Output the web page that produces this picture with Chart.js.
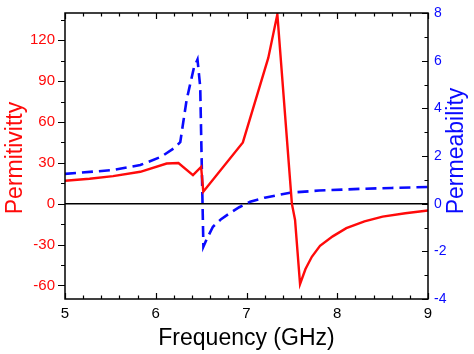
<!DOCTYPE html>
<html>
<head>
<meta charset="utf-8">
<script src="https://cdn.jsdelivr.net/npm/chart.js@4"></script>
<style>
    html, body { margin: 0; padding: 0; background: #fff; }
    #wrap { width: 474px; height: 354px; }
</style>
</head>
<body>
<div id="wrap"><canvas id="chart"></canvas></div>
<script>
// permittivity (red, left axis)
const epsFreq = [5.0, 5.27, 5.53, 5.83, 6.12, 6.25, 6.41, 6.5, 6.524, 6.96, 7.24, 7.34, 7.5, 7.535, 7.59, 7.65, 7.72, 7.81, 7.95, 8.1, 8.3, 8.5, 8.75, 9.0];
const epsVals = [16.8, 18.3, 20.2, 23.4, 29.5, 29.8, 21, 27, 8.8, 45, 107, 139, 0, -12, -59, -48, -39, -31, -24, -18, -13, -9.5, -7, -5];

// permeability (blue, right axis)
const muFreq = [5.0, 5.53, 5.83, 6.06, 6.2, 6.27, 6.34, 6.42, 6.46, 6.49, 6.505, 6.525, 6.56, 6.63, 6.72, 6.82, 6.92, 7.04, 7.2, 7.48, 7.8, 8.25, 8.6, 9.0];
const muVals = [1.25, 1.41, 1.62, 1.97, 2.32, 2.58, 4.35, 5.7, 6.05, 4.9, 2.0, -1.8, -1.5, -0.97, -0.65, -0.39, -0.15, 0.08, 0.25, 0.46, 0.55, 0.62, 0.66, 0.7];

const xTicks = [5, 6, 7, 8, 9];
const epsTicks = [-60, -30, 0, 30, 60, 90, 120];
const muTicks = [-4, -2, 0, 2, 4, 6, 8];

const RED = '#ff0a0a';
const BLUE = '#0a0aff';
const FONT = '"Liberation Sans", Arial, sans-serif';

function toPoints(xs, ys) {
    return xs.map((x, i) => ({x: x, y: ys[i]}));
}

function fixedTicks(values) {
    return function (scale) {
        scale.ticks = values.map(v => ({value: v}));
    };
}

function fitTo(size) {
    return function (scale) {
        if (scale.isHorizontal()) {
            scale.height = size;
            scale.paddingLeft = 0;
            scale.paddingRight = 0;
        } else {
            scale.width = size;
            scale.paddingTop = 0;
            scale.paddingBottom = 0;
        }
    };
}

// frame, zero line, ticks (left outward, others inward) and axis titles
const framePlugin = {
    id: 'frame',
    beforeDatasetsDraw(chart) {
        const ctx = chart.ctx;
        const a = chart.chartArea;
        const y0 = chart.scales.y.getPixelForValue(0);
        ctx.save();
        ctx.strokeStyle = '#000';
        ctx.lineWidth = 1.5;
        ctx.beginPath();
        ctx.moveTo(a.left, y0);
        ctx.lineTo(a.right, y0);
        ctx.stroke();
        ctx.restore();
    },
    afterDraw(chart) {
        const ctx = chart.ctx;
        const a = chart.chartArea;
        const sx = chart.scales.x, sy = chart.scales.y, sy1 = chart.scales.y1;
        ctx.save();
        ctx.strokeStyle = '#000';
        ctx.lineWidth = 1.5;
        ctx.strokeRect(a.left, a.top, a.right - a.left, a.bottom - a.top);

        ctx.lineWidth = 1.2;
        ctx.beginPath();
        // x ticks, bottom and top, inward
        for (let v = 5; v <= 9.001; v += 0.2) {
            const px = Math.round(sx.getPixelForValue(v)) + 0.5;
            const major = Math.abs(v - Math.round(v)) < 1e-6;
            const len = major ? 6 : 3.5;
            ctx.moveTo(px, a.bottom); ctx.lineTo(px, a.bottom - len);
            ctx.moveTo(px, a.top); ctx.lineTo(px, a.top + len);
        }
        // left ticks, outward
        for (let v = -60; v <= 135; v += 15) {
            const py = Math.round(sy.getPixelForValue(v)) + 0.5;
            const len = v % 30 === 0 ? 7 : 4;
            ctx.moveTo(a.left, py); ctx.lineTo(a.left - len, py);
        }
        // right ticks, inward
        for (let v = -4; v <= 8; v += 1) {
            const py = Math.round(sy1.getPixelForValue(v)) + 0.5;
            const len = v % 2 === 0 ? 6 : 3.5;
            ctx.moveTo(a.right, py); ctx.lineTo(a.right - len, py);
        }
        ctx.stroke();

        // axis titles
        ctx.font = '23px ' + FONT;
        ctx.textAlign = 'center';
        ctx.textBaseline = 'middle';
        ctx.fillStyle = '#000';
        ctx.fillText('Frequency (GHz)', (a.left + a.right) / 2, 339);

        ctx.save();
        ctx.translate(16, 158);
        ctx.rotate(-Math.PI / 2);
        ctx.fillStyle = RED;
        ctx.fillText('Permitivitty', 0, 0);
        ctx.restore();

        ctx.save();
        ctx.translate(457, 151);
        ctx.rotate(-Math.PI / 2);
        ctx.fillStyle = BLUE;
        ctx.fillText('Permeability', 0, 0);
        ctx.restore();

        ctx.restore();
    }
};

new Chart(document.getElementById('chart'), {
    type: 'line',
    data: {
        datasets: [
            {
                label: 'Permitivitty',
                data: toPoints(epsFreq, epsVals),
                yAxisID: 'y',
                borderColor: RED,
                borderWidth: 2.4,
                pointRadius: 0,
                tension: 0,
                fill: false,
            },
            {
                label: 'Permeability',
                data: toPoints(muFreq, muVals),
                yAxisID: 'y1',
                borderColor: BLUE,
                borderWidth: 2.6,
                borderDash: [11, 6],
                pointRadius: 0,
                tension: 0,
                fill: false,
            },
        ],
    },
    options: {
        responsive: true,
        maintainAspectRatio: false,
        animation: false,
        layout: {
            padding: {top: 13, left: 0, right: 0, bottom: 0},
        },
        plugins: {
            legend: {display: false},
            tooltip: {enabled: false},
        },
        scales: {
            x: {
                type: 'linear',
                min: 5,
                max: 9,
                afterBuildTicks: fixedTicks(xTicks),
                afterFit: fitTo(55),
                grid: {display: false, drawTicks: false},
                border: {display: false},
                ticks: {
                    padding: 6,
                    color: '#000',
                    font: {family: FONT, size: 15},
                    maxRotation: 0,
                },
            },
            y: {
                position: 'left',
                min: -70,
                max: 140,
                afterBuildTicks: fixedTicks(epsTicks),
                afterFit: fitTo(65),
                grid: {display: false, drawTicks: false},
                border: {display: false},
                ticks: {
                    padding: 10,
                    color: RED,
                    font: {family: FONT, size: 15},
                },
            },
            y1: {
                position: 'right',
                min: -4,
                max: 8,
                afterBuildTicks: fixedTicks(muTicks),
                afterFit: fitTo(46),
                grid: {display: false, drawTicks: false},
                border: {display: false},
                ticks: {
                    padding: 6,
                    color: BLUE,
                    font: {family: FONT, size: 14},
                },
            },
        },
    },
    plugins: [framePlugin],
});
</script>
</body>
</html>
